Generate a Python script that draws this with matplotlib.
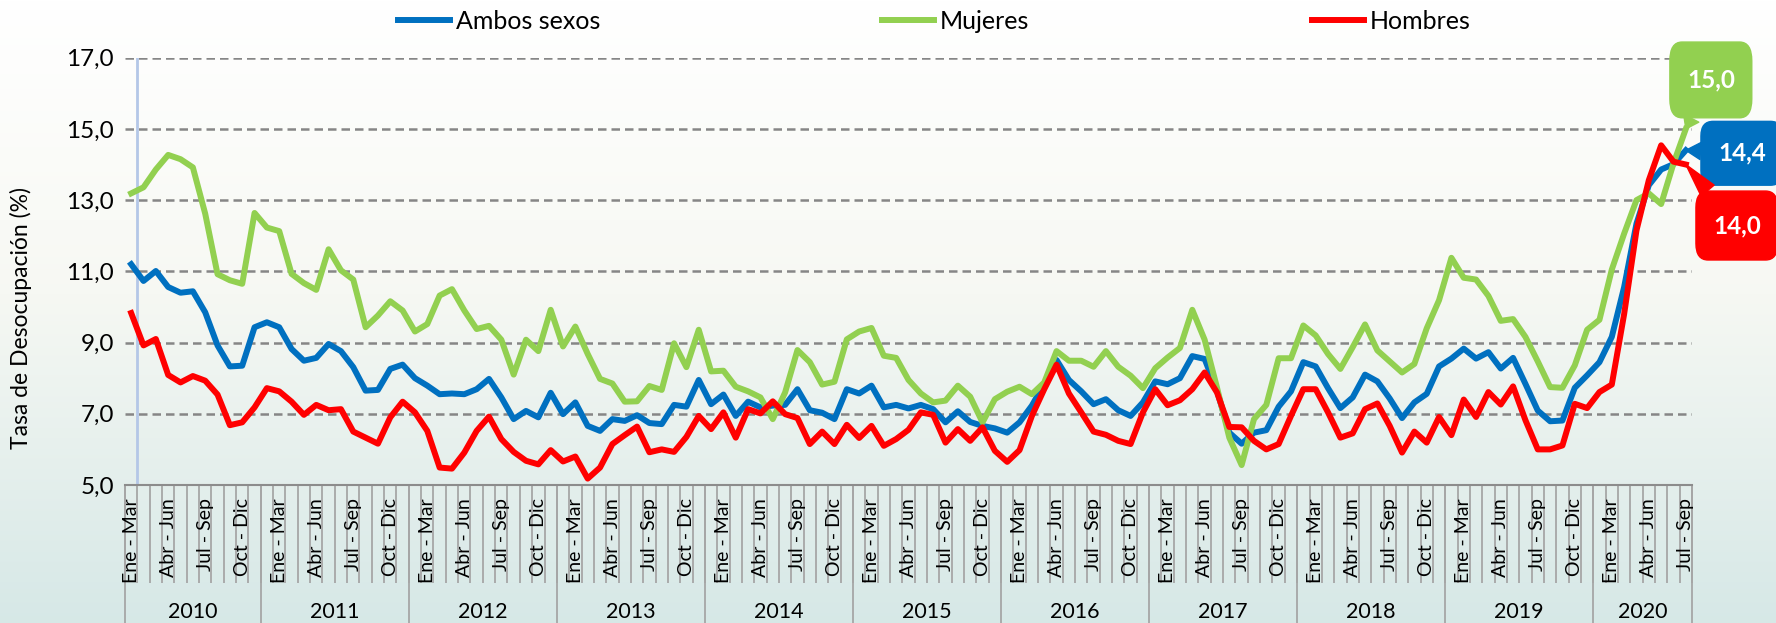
import matplotlib
matplotlib.use('Agg')
import matplotlib.pyplot as plt
import matplotlib.transforms as mtransforms
import numpy as np

plt.rcParams['font.family'] = ['Lato', 'DejaVu Sans']

# ===== datos =====
meses = ['Ene', 'Feb', 'Mar', 'Abr', 'May', 'Jun', 'Jul', 'Ago', 'Sep', 'Oct', 'Nov', 'Dic']
anios = [2010, 2011, 2012, 2013, 2014, 2015, 2016, 2017, 2018, 2019, 2020]
trimestres_por_anio = [11, 12, 12, 12, 12, 12, 12, 12, 12, 12, 8]
etiquetas_visibles = ['Ene - Mar', 'Abr - Jun', 'Jul - Sep', 'Oct - Dic']

ambos = [11.20, 10.73, 11.01, 10.56, 10.40, 10.44, 9.85, 8.92, 8.33, 8.35, 9.43,
         9.57, 9.43, 8.82, 8.49, 8.57, 8.96, 8.76, 8.31, 7.65, 7.67, 8.26, 8.38,
         8.00, 7.79, 7.55, 7.57, 7.55, 7.69, 7.98, 7.46, 6.85, 7.08, 6.90, 7.59,
         6.99, 7.32, 6.66, 6.52, 6.85, 6.80, 6.96, 6.74, 6.71, 7.25, 7.20, 7.95,
         7.27, 7.54, 6.94, 7.34, 7.18, 7.23, 7.25, 7.69, 7.10, 7.03, 6.85, 7.69,
         7.57, 7.79, 7.18, 7.25, 7.15, 7.25, 7.13, 6.76, 7.07, 6.77, 6.66, 6.59,
         6.47, 6.76, 7.23, 7.84, 8.51, 7.95, 7.63, 7.27, 7.41, 7.10, 6.94, 7.32,
         7.91, 7.83, 8.00, 8.62, 8.54, 7.65, 6.47, 6.16, 6.47, 6.54, 7.20, 7.63,
         8.45, 8.33, 7.72, 7.16, 7.46, 8.10, 7.91, 7.43, 6.88, 7.32, 7.56, 8.33,
         8.55, 8.83, 8.55, 8.73, 8.27, 8.57, 7.84, 7.09, 6.79, 6.81, 7.73, 8.08,
         8.45, 9.16, 10.56, 12.34, 13.42, 13.86, 14.01, 14.40]

mujeres = [13.19, 13.36, 13.86, 14.27, 14.15, 13.92, 12.62, 10.92, 10.75, 10.65, 12.64,
           12.23, 12.13, 10.93, 10.67, 10.48, 11.62, 11.03, 10.77, 9.43, 9.76, 10.16, 9.90,
           9.31, 9.52, 10.32, 10.50, 9.90, 9.38, 9.47, 9.08, 8.10, 9.08, 8.76, 9.92,
           8.89, 9.45, 8.68, 7.98, 7.85, 7.34, 7.35, 7.78, 7.67, 8.98, 8.31, 9.36,
           8.19, 8.21, 7.76, 7.63, 7.46, 6.85, 7.60, 8.79, 8.45, 7.82, 7.90, 9.09,
           9.31, 9.41, 8.63, 8.57, 7.95, 7.57, 7.32, 7.37, 7.79, 7.48, 6.76, 7.41,
           7.62, 7.76, 7.55, 7.88, 8.76, 8.49, 8.49, 8.32, 8.76, 8.32, 8.07, 7.72,
           8.28, 8.58, 8.85, 9.92, 9.08, 7.74, 6.33, 5.56, 6.85, 7.25, 8.56, 8.56,
           9.48, 9.20, 8.68, 8.26, 8.87, 9.51, 8.78, 8.47, 8.16, 8.40, 9.40, 10.19,
           11.38, 10.82, 10.77, 10.31, 9.61, 9.66, 9.16, 8.47, 7.75, 7.73, 8.36, 9.36,
           9.64, 11.05, 12.06, 13.00, 13.19, 12.89, 14.03, 15.00]

hombres = [9.83, 8.92, 9.10, 8.09, 7.88, 8.06, 7.93, 7.54, 6.68, 6.76, 7.18,
           7.72, 7.63, 7.34, 6.97, 7.25, 7.10, 7.13, 6.50, 6.33, 6.16, 6.90, 7.34,
           7.04, 6.52, 5.49, 5.46, 5.91, 6.52, 6.92, 6.29, 5.93, 5.68, 5.58, 5.98,
           5.66, 5.80, 5.18, 5.49, 6.15, 6.40, 6.64, 5.92, 6.00, 5.93, 6.35, 6.94,
           6.57, 7.04, 6.33, 7.13, 7.01, 7.35, 6.99, 6.88, 6.15, 6.50, 6.15, 6.69,
           6.32, 6.66, 6.10, 6.29, 6.55, 7.04, 6.97, 6.19, 6.57, 6.24, 6.62, 5.96,
           5.65, 5.98, 6.94, 7.69, 8.38, 7.57, 7.04, 6.50, 6.41, 6.24, 6.15, 7.04,
           7.69, 7.24, 7.38, 7.69, 8.16, 7.60, 6.63, 6.62, 6.24, 6.00, 6.15, 6.94,
           7.69, 7.69, 7.04, 6.33, 6.45, 7.13, 7.29, 6.66, 5.91, 6.50, 6.19, 6.91,
           6.40, 7.40, 6.91, 7.61, 7.26, 7.77, 6.82, 6.00, 6.00, 6.11, 7.28, 7.16,
           7.61, 7.82, 9.80, 12.15, 13.56, 14.54, 14.08, 14.00]

AZUL = '#0070C0'
VERDE = '#92D050'
ROJO = '#FF0000'
GRIS = '#8c8c8c'

# etiquetas de trimestres moviles (mes central Feb 2010 ... Ago 2020)
n = len(ambos)
trimestres = []
for k in range(n):
    c = (1 + k) % 12
    trimestres.append(meses[(c - 1) % 12] + ' - ' + meses[(c + 1) % 12])
x = np.arange(n)

# ===== figura =====
fig = plt.figure(figsize=(17.76, 6.23), dpi=100)

# fondo degradado
bg = fig.add_axes([0, 0, 1, 1], zorder=-10)
grad = np.linspace(0, 1, 256)[:, None]
c_top = np.array([1.0, 1.0, 1.0])
c_mid = np.array([0.97, 0.975, 0.955])
c_bot = np.array([0.84, 0.91, 0.905])
t = np.clip((grad - 0.45) / 0.55, 0, 1)
col = np.where(grad < 0.45, c_top + (c_mid - c_top) * (grad / 0.45), c_mid + (c_bot - c_mid) * t)
bg.imshow(col[:, None, :].repeat(2, axis=1), aspect='auto', extent=[0, 1, 0, 1], origin='upper')
bg.axis('off')

ax = fig.add_axes([125 / 1776, 1 - 485 / 623, (1692 - 125) / 1776, (485 - 57.7) / 623])
ax.set_facecolor('none')

l1, = ax.plot(x, ambos, color=AZUL, lw=4.3, solid_joinstyle='round', label='Ambos sexos', zorder=3)
l2, = ax.plot(x, mujeres, color=VERDE, lw=4.3, solid_joinstyle='round', label='Mujeres', zorder=3)
l3, = ax.plot(x, hombres, color=ROJO, lw=4.3, solid_joinstyle='round', label='Hombres', zorder=3)

ax.set_xlim(-0.5, n - 0.5)
ax.set_ylim(5, 17)
ax.set_yticks(np.arange(5, 18, 2))
ax.set_yticklabels([f'{v:.1f}'.replace('.', ',') for v in np.arange(5, 18, 2)], fontsize=17.5)
ax.tick_params(axis='y', length=0, pad=8)
ax.set_xticks([])
for s in ['top', 'right', 'left']:
    ax.spines[s].set_visible(False)
ax.spines['bottom'].set_color(GRIS)
ax.spines['bottom'].set_linewidth(1.5)

for v in np.arange(7, 18, 2):
    ax.axhline(v, color='#868686', lw=1.8, linestyle=(0, (3.4, 2.0)), zorder=1)
ax.axvline(0.5, color='#b4c7e7', lw=2, zorder=2)

# eje de categorias en dos niveles
trans = mtransforms.blended_transform_factory(ax.transData, ax.transAxes)
ax_h = (485 - 57.7)
ax.vlines(np.arange(-0.5, n, 1), -98 / ax_h, 0, transform=trans, color='#a6a6a6', lw=1.3, clip_on=False)
for k, lab in enumerate(trimestres):
    if lab in etiquetas_visibles:
        ax.text(k, -13 / ax_h, lab, rotation=90, ha='center', va='top', fontsize=14,
                transform=trans, clip_on=False)
inicio = -0.5
ax.vlines([inicio], -140 / ax_h, 0, transform=trans, color='#a6a6a6', lw=1.3, clip_on=False)
for anio, cnt in zip(anios, trimestres_por_anio):
    fin = inicio + cnt
    ax.vlines([fin], -140 / ax_h, 0, transform=trans, color='#a6a6a6', lw=1.3, clip_on=False)
    ax.text((inicio + fin) / 2, -127 / ax_h, str(anio), ha='center', va='center', fontsize=15.5,
            transform=trans, clip_on=False)
    inicio = fin

fig.text(21 / 1776, 1 - 318 / 623, 'Tasa de Desocupación (%)', rotation=90,
         ha='center', va='center', fontsize=16.5)

fig.legend(handles=[l1, l2, l3], loc='center left', bbox_to_anchor=(398 / 1776, 1 - 21.5 / 623),
           ncol=3, frameon=False, fontsize=18, columnspacing=11.3, handlelength=2.08,
           handletextpad=0.22, borderpad=0, borderaxespad=0)

# etiquetas del ultimo dato
callouts = [(mujeres, VERDE, (25, 49), 1.55), (ambos, AZUL, (56, -3), 1.2), (hombres, ROJO, (51, -61), 1.35)]
for serie, colr, off, asp in callouts:
    ax.annotate(f'{serie[-1]:.1f}'.replace('.', ','), xy=(x[-1], serie[-1]), xytext=off,
                textcoords='offset pixels', ha='center', va='center', fontsize=17.5,
                fontweight='bold', color='white', annotation_clip=False, zorder=6,
                bbox=dict(boxstyle='round,pad=0.7,rounding_size=0.5', fc=colr, ec=colr,
                          mutation_aspect=asp),
                arrowprops=dict(arrowstyle='wedge,tail_width=0.7', fc=colr, ec=colr,
                                shrinkA=0, shrinkB=0))

fig.savefig('out.png', dpi=100)
print("Plot saved as out.png")
